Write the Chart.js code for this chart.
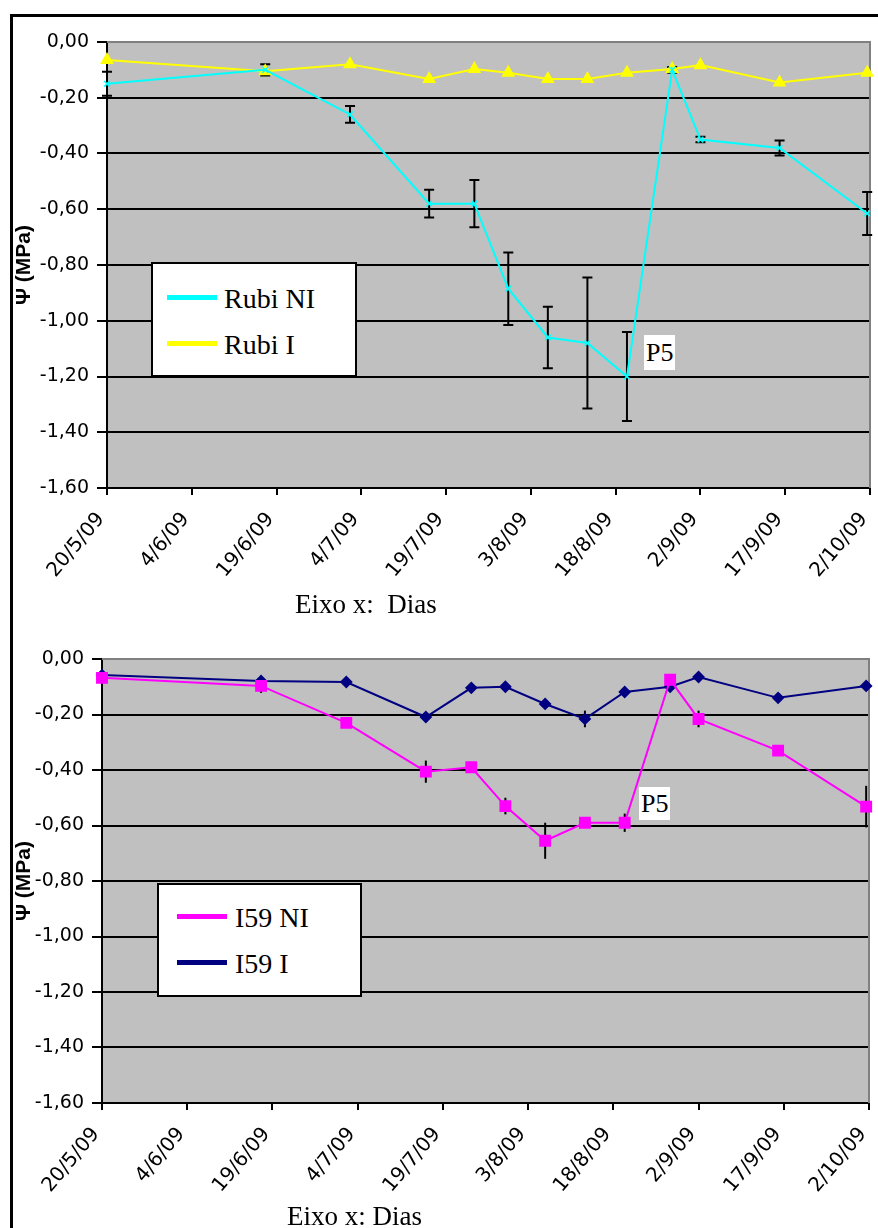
<!DOCTYPE html>
<html>
<head>
<meta charset="utf-8">
<script src="https://cdn.jsdelivr.net/npm/chart.js@4.4.1/dist/chart.umd.min.js"></script>
<style>
  html, body { margin: 0; padding: 0; background: #fff; }
  #page { position: relative; width: 878px; height: 1228px; overflow: hidden; }
  #frame { position: absolute; left: 10px; top: 14px; width: 900px; height: 1300px;
           border-top: 3px solid #000; border-left: 3px solid #000; }
  canvas { position: absolute; left: 0; }
  #c1 { top: 0; }
  #c2 { top: 620px; }
  .box { position: absolute; background: #fff; border: 2px solid #000; box-sizing: border-box; }
  .swatch { position: absolute; width: 50px; height: 5px; }
  .txt { position: absolute; font-family: "Liberation Serif", serif; color: #000; white-space: pre; }
</style>
</head>
<body>
<div id="page">
  <div id="frame"></div>
  <canvas id="c1" width="878" height="620"></canvas>
  <canvas id="c2" width="878" height="608"></canvas>
</div>
<script>
// dias desde 20/5/09
const sampleDays = [0, 28, 43, 57, 65, 71, 78, 85, 92, 100, 105, 119, 134.5];
const tickDays = [0, 15, 30, 45, 60, 75, 90, 105, 120, 135];
const tickLabels = ['20/5/09', '4/6/09', '19/6/09', '4/7/09', '19/7/09', '3/8/09', '18/8/09', '2/9/09', '17/9/09', '2/10/09'];
const yTicks = [0, -0.2, -0.4, -0.6, -0.8, -1.0, -1.2, -1.4, -1.6];

// grafico de cima
const rubiNI = [-0.15, -0.10, -0.26, -0.58, -0.58, -0.885, -1.06, -1.08, -1.20, -0.10, -0.35, -0.38, -0.615];
const rubiNIerr = [0.043, 0.02, 0.03, 0.05, 0.085, 0.13, 0.11, 0.235, 0.16, 0.01, 0.01, 0.027, 0.077];
const rubiI = [-0.065, -0.105, -0.08, -0.133, -0.097, -0.11, -0.133, -0.133, -0.11, -0.097, -0.083, -0.145, -0.11];

// grafico de baixo
const i59NI = [-0.068, -0.097, -0.23, -0.406, -0.39, -0.53, -0.655, -0.59, -0.59, -0.075, -0.216, -0.33, -0.532];
const i59NIerr = [0, 0.025, 0, 0.04, 0, 0.03, 0.065, 0, 0.033, 0, 0.03, 0, 0.075];
const i59I = [-0.058, -0.079, -0.083, -0.209, -0.104, -0.10, -0.162, -0.216, -0.119, -0.10, -0.065, -0.14, -0.097];
const i59Ierr = [0, 0, 0, 0, 0, 0, 0, 0.03, 0, 0, 0, 0, 0];

const toPoints = vals => sampleDays.map((d, i) => ({ x: d, y: vals[i] }));

const plotBg = {
  id: 'plotBg',
  beforeDraw(chart) {
    const { ctx, chartArea: a } = chart;
    ctx.save();
    ctx.fillStyle = '#c0c0c0';
    ctx.fillRect(a.left, a.top, a.width, a.height);
    ctx.restore();
  },
  beforeDatasetsDraw(chart) {
    const { ctx, chartArea: a } = chart;
    ctx.save();
    ctx.strokeStyle = '#808080';
    ctx.lineWidth = 2;
    ctx.beginPath();
    ctx.moveTo(a.left, a.top);
    ctx.lineTo(a.right, a.top);
    ctx.lineTo(a.right, a.bottom);
    ctx.stroke();
    ctx.restore();
  }
};

const errorBars = {
  id: 'errorBars',
  beforeDatasetsDraw(chart, args, opts) {
    const ctx = chart.ctx, xs = chart.scales.x, ys = chart.scales.y;
    const cap = opts.cap || 0;
    ctx.save();
    ctx.strokeStyle = '#000';
    ctx.lineWidth = 2;
    chart.data.datasets.forEach(ds => {
      if (!ds.errors) return;
      ds.data.forEach((p, i) => {
        const e = ds.errors[i];
        if (!e) return;
        const x = xs.getPixelForValue(p.x);
        const y1 = ys.getPixelForValue(p.y + e);
        const y2 = ys.getPixelForValue(p.y - e);
        ctx.beginPath();
        ctx.moveTo(x, y1); ctx.lineTo(x, y2);
        if (cap) {
          ctx.moveTo(x - cap, y1); ctx.lineTo(x + cap, y1);
          ctx.moveTo(x - cap, y2); ctx.lineTo(x + cap, y2);
        }
        ctx.stroke();
      });
    });
    ctx.restore();
  }
};

function makeChart(id, datasets, o) {
  return new Chart(document.getElementById(id), {
    type: 'line',
    data: { datasets },
    plugins: [plotBg, errorBars],
    options: {
      responsive: false,
      animation: false,
      layout: { padding: { top: o.top, right: o.right, left: 0, bottom: 0 } },
      plugins: {
        legend: { display: false },
        tooltip: { enabled: false },
        errorBars: { cap: o.cap }
      },
      scales: {
        x: {
          type: 'linear', min: 0, max: 135,
          afterBuildTicks: s => { s.ticks = tickDays.map(v => ({ value: v })); },
          afterFit: s => { s.height = o.xH; s.paddingLeft = 0; s.paddingRight = 0; },
          grid: { drawOnChartArea: false, tickLength: 7, color: '#000', lineWidth: 2 },
          border: { color: '#000', width: 2 },
          ticks: {
            autoSkip: false, minRotation: 50, maxRotation: 50, padding: 13, labelOffset: -6, color: '#000',
            font: { family: 'DejaVu Sans', size: 20 },
            callback: (v, i) => tickLabels[i]
          }
        },
        y: {
          min: -1.6, max: 0,
          afterBuildTicks: s => { s.ticks = yTicks.map(v => ({ value: v })); },
          afterFit: s => { s.width = o.yW; },
          grid: { color: '#000', lineWidth: 2, tickLength: 10 },
          border: { color: '#000', width: 2 },
          ticks: {
            padding: 8, color: '#000',
            font: { family: 'DejaVu Sans', size: 19 },
            callback: v => (v < 0 ? '-' : '') + Math.abs(v).toFixed(2).replace('.', ',')
          },
          title: {
            display: true, text: 'Ψ (MPa)', color: '#000',
            font: { family: 'Liberation Sans', size: 21, weight: 'bold' },
            padding: { top: 12, bottom: 0 }
          }
        }
      }
    }
  });
}

const topChart = makeChart('c1', [
  { label: 'Rubi NI', data: toPoints(rubiNI), errors: rubiNIerr, borderColor: '#00ffff', borderWidth: 2,
    pointStyle: 'crossRot', pointRadius: 4, pointBorderColor: '#00ffff', pointBorderWidth: 1.5, tension: 0, clip: false },
  { label: 'Rubi I', data: toPoints(rubiI), borderColor: '#ffff00', borderWidth: 2,
    pointStyle: 'triangle', pointRadius: 6, pointBackgroundColor: '#ffff00', pointBorderColor: '#ffff00', tension: 0, clip: false }
], { top: 42, right: 6, xH: 132, yW: 107, cap: 5 });

const bottomChart = makeChart('c2', [
  { label: 'I59 NI', data: toPoints(i59NI), errors: i59NIerr, borderColor: '#ff00ff', borderWidth: 2,
    pointStyle: 'rect', pointRadius: 7, pointBackgroundColor: '#ff00ff', pointBorderColor: '#ff00ff', tension: 0, clip: false },
  { label: 'I59 I', data: toPoints(i59I), errors: i59Ierr, borderColor: '#000080', borderWidth: 2,
    pointStyle: 'rectRot', pointRadius: 5, pointBackgroundColor: '#000080', pointBorderColor: '#000080', tension: 0, clip: false }
], { top: 39, right: 9, xH: 125, yW: 102, cap: 0 });

// legendas, rotulos e titulos em HTML
const page = document.getElementById('page');
function add(cls, css, text) {
  const d = document.createElement('div');
  d.className = cls;
  Object.assign(d.style, css);
  if (text) d.textContent = text;
  page.appendChild(d);
  return d;
}
function legend(chart, box, sx, tx, baselines) {
  add('box', { left: box[0] + 'px', top: box[1] + 'px', width: box[2] + 'px', height: box[3] + 'px' });
  chart.data.datasets.forEach((ds, i) => {
    add('swatch', { left: sx + 'px', top: (baselines[i] - 13) + 'px', background: ds.borderColor });
    add('txt', { left: tx + 'px', top: (baselines[i] - 23) + 'px', fontSize: '28px', lineHeight: '28px' }, ds.label);
  });
}
legend(topChart, [151, 262, 206, 115], 167, 224, [308, 354]);
legend(bottomChart, [157, 883, 205, 114], 177, 235, [927, 973]);

add('txt', { left: '644px', top: '335px', fontSize: '26px', lineHeight: '35px', background: '#fff', padding: '0 2px' }, 'P5');
add('txt', { left: '639px', top: '787px', fontSize: '26px', lineHeight: '33px', background: '#fff', padding: '0 2px' }, 'P5');

add('txt', { left: '295px', top: '591px', fontSize: '27px', lineHeight: '27px' }, 'Eixo x:  Dias');
add('txt', { left: '287px', top: '1203px', fontSize: '27px', lineHeight: '27px' }, 'Eixo x: Dias');
</script>
</body>
</html>
